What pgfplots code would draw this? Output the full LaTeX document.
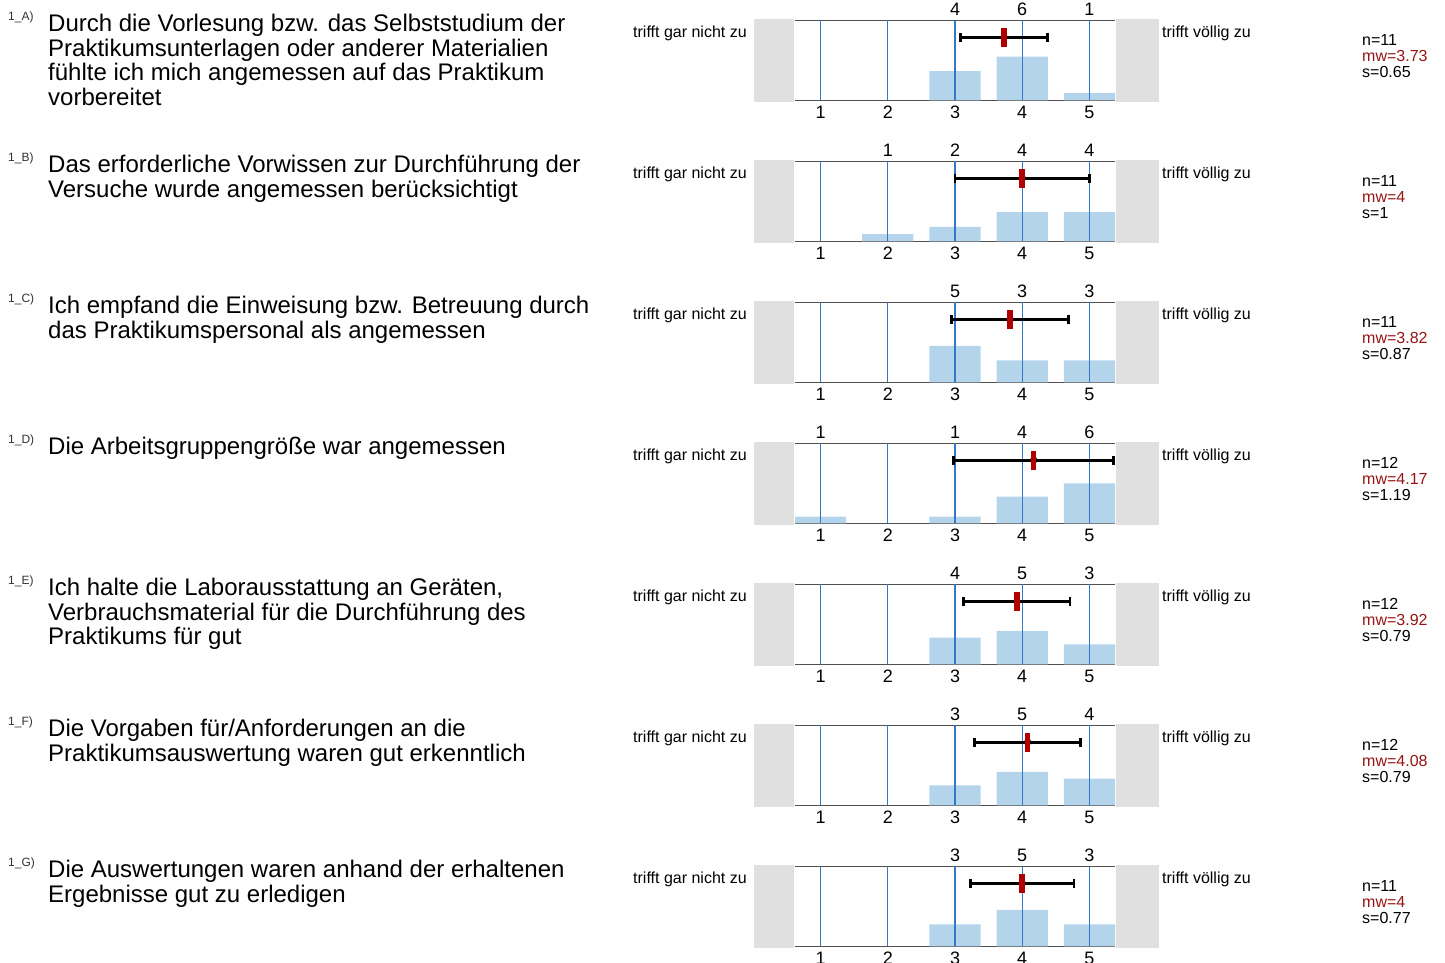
\documentclass[border=0pt]{standalone}
\usepackage{fontspec}
\setmainfont{Liberation Sans}
\usepackage{pgfplots}
\usepackage{pgfplotstable}
\pgfplotsset{compat=1.18}

\definecolor{barblue}{RGB}{180,212,236}
\definecolor{gridblue}{RGB}{50,120,200}
\definecolor{linegray}{RGB}{80,80,80}
\definecolor{boxgray}{RGB}{224,224,224}
\definecolor{meanred}{RGB}{176,0,0}
\definecolor{textred}{RGB}{150,20,20}

% answer counts per item (1 = trifft gar nicht zu ... 5 = trifft voellig zu)
\pgfplotstableread{
x c
3 4
4 6
5 1
}\qA
\pgfplotstableread{
x c
2 1
3 2
4 4
5 4
}\qB
\pgfplotstableread{
x c
3 5
4 3
5 3
}\qC
\pgfplotstableread{
x c
1 1
3 1
4 4
5 6
}\qD
\pgfplotstableread{
x c
3 4
4 5
5 3
}\qE
\pgfplotstableread{
x c
3 3
4 5
5 4
}\qF
\pgfplotstableread{
x c
3 3
4 5
5 3
}\qG

\pgfdeclareplotmark{meanbar}{%
  \pgfpathrectangle{\pgfpoint{-2.8pt}{-9.5pt}}{\pgfpoint{5.6pt}{19pt}}%
  \pgfusepathqfill}

\pgfplotsset{panel/.style={
  anchor=north west,
  scale only axis, width=320pt, height=80pt,
  xmin=0.62, xmax=5.38, ymin=0,
  axis x line=box, axis y line=none,
  axis line style={draw=linegray, line width=1.4pt},
  xtick={1,2,3,4,5}, ytick=\empty,
  major tick length=0pt,
  xticklabel style={font=\fontsize{18}{18}\selectfont, anchor=base, yshift=-18.4pt, inner sep=0pt},
  /pgf/number format/assume math mode=true,
  clip=false,
}}

% #1 row, #2 table, #3 n, #4 mean, #5 s, #6 item letter, #7 question
\newcommand{\panel}[7]{%
  \pgfmathsetmacro\ytop{-(20.3+141*#1)}%
  \pgfmathsetmacro\ey{0.79*#3}%
  \fill[boxgray] (753.5pt,\ytop pt+1.5pt) rectangle (794pt,\ytop pt-81.5pt);
  \fill[boxgray] (1116pt,\ytop pt+1.5pt) rectangle (1158.5pt,\ytop pt-81.5pt);
  \node[anchor=base west, inner sep=0pt, font=\fontsize{12}{12}\selectfont, text=black!80]
    at (8pt,\ytop pt) {1\_#6)};
  \node[anchor=base west, inner sep=0pt, font=\fontsize{24}{24}\selectfont]
    at (48pt,\ytop pt-11.5pt) {\begin{tabular}[t]{@{}l@{}}#7\end{tabular}};
  \node[anchor=base west, inner sep=0pt, font=\fontsize{16}{16}\selectfont]
    at (633pt,\ytop pt-17pt) {trifft gar nicht zu};
  \node[anchor=base west, inner sep=0pt, font=\fontsize{16}{16}\selectfont]
    at (1162pt,\ytop pt-17pt) {trifft völlig zu};
  \node[anchor=base west, inner sep=0pt, font=\fontsize{16}{16}\selectfont]
    at (1362pt,\ytop pt-24.7pt)
    {\begin{tabular}[t]{@{}l@{}}n=#3\\\textcolor{textred}{mw=#4}\\s=#5\end{tabular}};
  \begin{axis}[panel, at={(795pt,\ytop pt)}, ymax=#3]
    \addplot[ybar, bar width=0.76, fill=barblue, draw=none] table[x=x, y=c] {#2};
    \pgfplotsinvokeforeach{1,...,5}{\draw[gridblue, line width=1.1pt] (axis cs:##1,0) -- (axis cs:##1,#3);}
    \addplot[draw=none, nodes near coords, point meta=explicit symbolic,
      every node near coord/.style={anchor=base, yshift=5pt, inner sep=0pt, font=\fontsize{18}{18}\selectfont}]
      table[x=x, y expr=#3, meta=c] {#2};
    \addplot[black, line width=3pt, only marks, mark=none, error bars/.cd, x dir=both, x explicit,
      error bar style={black, line width=3pt},
      error mark options={black, line width=2.6pt, mark size=4.6pt, rotate=90}]
      coordinates {(#4,\ey) +- (#5,0)};
    \addplot[only marks, mark=meanbar, mark options={fill=meanred, draw=none}]
      coordinates {(#4,\ey)};
  \end{axis}
}

\begin{document}
\begin{tikzpicture}
\useasboundingbox (0,0) rectangle (1445pt,-962pt);
\panel{0}{\qA}{11}{3.73}{0.65}{A}{Durch die Vorlesung bzw. das Selbststudium der\\Praktikumsunterlagen oder anderer Materialien\\fühlte ich mich angemessen auf das Praktikum\\vorbereitet}
\panel{1}{\qB}{11}{4}{1}{B}{Das erforderliche Vorwissen zur Durchführung der\\Versuche wurde angemessen berücksichtigt}
\panel{2}{\qC}{11}{3.82}{0.87}{C}{Ich empfand die Einweisung bzw. Betreuung durch\\das Praktikumspersonal als angemessen}
\panel{3}{\qD}{12}{4.17}{1.19}{D}{Die Arbeitsgruppengröße war angemessen}
\panel{4}{\qE}{12}{3.92}{0.79}{E}{Ich halte die Laborausstattung an Geräten,\\Verbrauchsmaterial für die Durchführung des\\Praktikums für gut}
\panel{5}{\qF}{12}{4.08}{0.79}{F}{Die Vorgaben für/Anforderungen an die\\Praktikumsauswertung waren gut erkenntlich}
\panel{6}{\qG}{11}{4}{0.77}{G}{Die Auswertungen waren anhand der erhaltenen\\Ergebnisse gut zu erledigen}
\end{tikzpicture}
\end{document}
